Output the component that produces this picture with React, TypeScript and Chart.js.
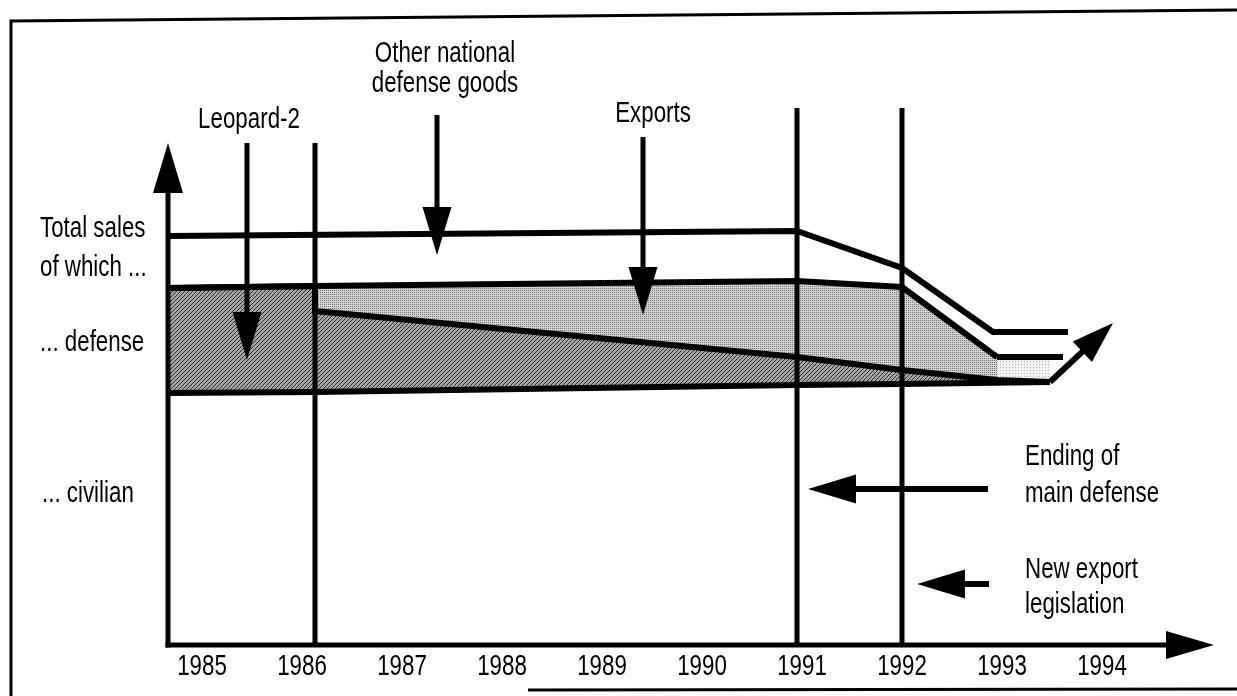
import React, { useEffect, useRef } from "react";
import { Chart, registerables } from "chart.js";

Chart.register(...registerables);

// ---------- data (years on x, schematic sales level 0..109 on y) ----------
const tickYears = [1985, 1986, 1987, 1988, 1989, 1990, 1991, 1992, 1993, 1994];
const axisStart = 1984.66;
const axisEnd = 1995.12;
const yMax = 109;

const totalX = [1984.66, 1990.95, 1992.0, 1992.91, 1993.66];
const totalSales = [81.8, 82.8, 75.4, 62.6, 62.6];

const defenseX = [1984.66, 1986.13, 1990.95, 1992.0, 1992.95, 1993.61];
const defenseTop = [71.4, 71.8, 72.8, 71.6, 57.6, 57.6];
const boxFromIndex = 4;

const leopardX = [1984.66, 1986.13, 1986.13, 1990.95, 1992.0, 1992.95, 1993.48];
const leopardTop = [71.4, 71.8, 66.8, 57.6, 55.0, 53.0, 52.6];

const civilianX = [1984.66, 1986.13, 1990.95, 1992.0, 1993.48];
const civilianTop = [50.4, 50.6, 52.0, 52.2, 52.6];

const eventYears = [1986.13, 1990.95, 1992.0];
const eventTops = [100.4, 107.4, 107.4];

const yArrowTop = 100.4;

// annotation arrows: [fromX, fromY] -> [toX, toY]
const pointerFrom = [
  [1985.45, 100.4],
  [1987.35, 106.0],
  [1989.41, 101.6],
  [1992.86, 31.2],
  [1992.87, 12.2],
  [1993.48, 52.6],
];
const pointerTo = [
  [1985.45, 57.0],
  [1987.35, 78.0],
  [1989.41, 66.0],
  [1991.06, 31.2],
  [1992.15, 12.2],
  [1994.11, 64.4],
];

// text labels
const labelLines = [
  ["Leopard-2"],
  ["Other national", "defense goods"],
  ["Exports"],
  ["Ending of", "main defense"],
  ["New export", "legislation"],
  ["Total sales", "of which ..."],
  ["... defense"],
  ["... civilian"],
];
const labelX = [1985.47, 1987.43, 1989.51, 1993.23, 1993.23, 1983.38, 1983.38, 1983.4];
const labelBaselines = [
  [103.4],
  [116.6, 110.6],
  [104.6],
  [36.0, 28.6],
  [13.4, 6.4],
  [81.6, 73.8],
  [58.8],
  [28.6],
];
const labelAlign = ["center", "center", "center", "left", "left", "left", "left", "left"];

// ---------- styles ----------
const FONT_FAMILY = "'Liberation Sans', Arial, Helvetica, sans-serif";
const FONT_SIZE = 29;
const FONT_SQUEEZE = 0.77;
const TICK_BASELINE_OFFSET = 30;

const pts = (xs: number[], ys: number[]) => xs.map((x, i) => ({ x, y: ys[i] }));

function makePattern(size: number, bg: string, fg: string, cells: number[][]): CanvasPattern | string {
  const c = document.createElement("canvas");
  c.width = size;
  c.height = size;
  const g = c.getContext("2d");
  if (!g) return bg;
  g.fillStyle = bg;
  g.fillRect(0, 0, size, size);
  g.fillStyle = fg;
  cells.forEach(([x, y]) => g.fillRect(x, y, 1, 1));
  return g.createPattern(c, "repeat") || bg;
}

function drawArrow(
  ctx: CanvasRenderingContext2D,
  x1: number, y1: number, x2: number, y2: number,
  w: number, hl: number, hw: number
) {
  const dx = x2 - x1;
  const dy = y2 - y1;
  const L = Math.hypot(dx, dy);
  const ux = dx / L;
  const uy = dy / L;
  const bx = x2 - ux * hl;
  const by = y2 - uy * hl;
  ctx.lineWidth = w;
  ctx.lineCap = "butt";
  ctx.beginPath();
  ctx.moveTo(x1, y1);
  ctx.lineTo(bx + ux * 2, by + uy * 2);
  ctx.stroke();
  ctx.beginPath();
  ctx.moveTo(x2, y2);
  ctx.lineTo(bx - uy * hw, by + ux * hw);
  ctx.lineTo(bx + uy * hw, by - ux * hw);
  ctx.closePath();
  ctx.fill();
}

function squeezedText(ctx: CanvasRenderingContext2D, txt: string, x: number, y: number, align: CanvasTextAlign) {
  ctx.save();
  ctx.translate(x, y);
  ctx.scale(FONT_SQUEEZE, 1);
  ctx.textAlign = align;
  ctx.textBaseline = "alphabetic";
  ctx.fillText(txt, 0, 0);
  ctx.restore();
}

const framePlugin = {
  id: "frame",
  beforeDraw(chart: any) {
    const ctx = chart.ctx as CanvasRenderingContext2D;
    ctx.save();
    ctx.fillStyle = "#fff";
    ctx.fillRect(0, 0, chart.width, chart.height);
    ctx.strokeStyle = "#000";
    ctx.lineWidth = 3;
    ctx.beginPath();
    ctx.moveTo(11, chart.height);
    ctx.lineTo(11, 21);
    ctx.lineTo(chart.width, 10);
    ctx.stroke();
    ctx.beginPath();
    ctx.moveTo(528, 690);
    ctx.lineTo(chart.width, 689);
    ctx.stroke();
    ctx.restore();
  },
};

const overlayPlugin = {
  id: "overlay",
  afterDatasetsDraw(chart: any) {
    const ctx = chart.ctx as CanvasRenderingContext2D;
    const xs = chart.scales.x;
    const ys = chart.scales.y;
    const px = (v: number) => xs.getPixelForValue(v);
    const py = (v: number) => ys.getPixelForValue(v);
    ctx.save();
    ctx.strokeStyle = "#000";
    ctx.fillStyle = "#000";

    // event lines
    ctx.lineWidth = 5;
    eventYears.forEach((e, i) => {
      ctx.beginPath();
      ctx.moveTo(px(e), py(eventTops[i]));
      ctx.lineTo(px(e), py(0));
      ctx.stroke();
    });

    // axes with arrow heads
    drawArrow(ctx, px(axisStart), py(0) + 2.5, px(axisStart), py(yArrowTop), 5, 50, 15);
    drawArrow(ctx, px(axisStart) - 2.5, py(0), px(axisEnd), py(0), 5, 48, 14);

    // pointer arrows
    pointerFrom.forEach((f, i) => {
      const t = pointerTo[i];
      const horizontal = f[1] === t[1];
      const diag = f[0] !== t[0] && !horizontal;
      drawArrow(
        ctx, px(f[0]), py(f[1]), px(t[0]), py(t[1]),
        diag || horizontal ? 6 : 5,
        diag ? 42 : 48,
        diag ? 14 : 14.5
      );
    });

    ctx.font = `${FONT_SIZE}px ${FONT_FAMILY}`;

    // x tick labels, placed by the x scale
    xs.ticks.forEach((t: any) => {
      squeezedText(ctx, String(t.label ?? t.value), px(t.value), py(0) + TICK_BASELINE_OFFSET, "center");
    });

    // labels
    labelLines.forEach((lines, i) => {
      lines.forEach((txt, j) => {
        squeezedText(ctx, txt, px(labelX[i]), py(labelBaselines[i][j]), labelAlign[i] as CanvasTextAlign);
      });
    });
    ctx.restore();
  },
};

export default function App() {
  const ref = useRef<HTMLCanvasElement>(null);

  useEffect(() => {
    const canvas = ref.current;
    if (!canvas) return;
    const darkHatch = makePattern(4, "#a6a6a6", "#2e2e2e", [[0, 3], [1, 2], [2, 1], [3, 0]]);
    const lightDots = makePattern(2, "#d2d2d2", "#777777", [[0, 0]]);
    const boxFill = makePattern(3, "#f1f1f1", "#b5b5b5", [[1, 1]]);

    const chart = new Chart(canvas, {
      type: "line",
      data: {
        datasets: [
          {
            label: "Total sales",
            data: pts(totalX, totalSales),
            borderColor: "#000",
            borderWidth: 6,
            pointRadius: 0,
            fill: false,
          },
          {
            label: "Exports",
            data: pts(defenseX, defenseTop),
            borderColor: "#000",
            borderWidth: 6,
            pointRadius: 0,
            backgroundColor: lightDots as any,
            fill: 2,
            segment: {
              backgroundColor: (c: any) => (c.p0DataIndex >= boxFromIndex ? boxFill : undefined),
            } as any,
          },
          {
            label: "Leopard-2",
            data: pts(leopardX, leopardTop),
            borderColor: "#000",
            borderWidth: 6,
            pointRadius: 0,
            backgroundColor: darkHatch as any,
            fill: 3,
          },
          {
            label: "Civilian",
            data: pts(civilianX, civilianTop),
            borderColor: "#000",
            borderWidth: 6,
            pointRadius: 0,
            fill: false,
          },
        ],
      },
      options: {
        animation: false,
        responsive: false,
        devicePixelRatio: 1,
        layout: { padding: { left: 168, right: 23, top: 100, bottom: 11 } },
        elements: { line: { tension: 0, borderJoinStyle: "miter" } },
        plugins: {
          legend: { display: false },
          tooltip: { enabled: false },
          filler: { drawTime: "beforeDatasetsDraw" } as any,
        },
        scales: {
          x: {
            type: "linear",
            min: axisStart,
            max: axisEnd,
            grid: { display: false, drawTicks: false },
            border: { display: false },
            afterBuildTicks: (s: any) => {
              s.ticks = tickYears.map((v) => ({ value: v }));
            },
            afterFit: (s: any) => {
              s.height = 40;
            },
            ticks: {
              display: false,
              autoSkip: false,
              callback: (v: any) => String(v),
            },
          },
          y: { type: "linear", display: false, min: 0, max: yMax },
        },
      },
      plugins: [framePlugin, overlayPlugin],
    });
    return () => chart.destroy();
  }, []);

  return (
    <div style={{ position: "absolute", left: 0, top: 0, width: 1237, height: 696, background: "#fff" }}>
      <canvas ref={ref} width={1237} height={696} style={{ display: "block", width: 1237, height: 696 }} />
    </div>
  );
}
